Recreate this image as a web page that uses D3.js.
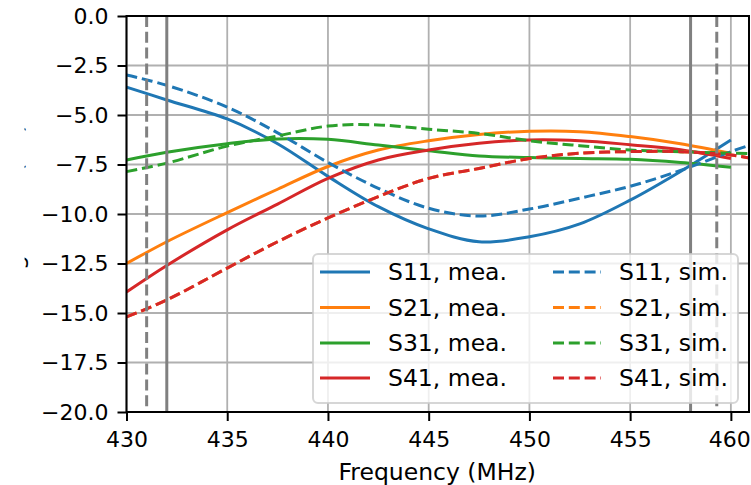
<!DOCTYPE html>
<html>
<head>
<meta charset="utf-8">
<script src="https://cdn.jsdelivr.net/npm/d3@7"></script>
<style>
  html, body { margin: 0; padding: 0; background: #fff; }
  svg { display: block; font-family: "DejaVu Sans", sans-serif; }
</style>
</head>
<body>
<svg id="chart" width="751" height="485"></svg>
<script>
// ---- data ----
const freqMea = [430, 432, 435, 437.5, 440, 442.5, 445, 447.5, 450, 452.5, 455, 457.5, 460];
const freqSim = [430, 432, 435, 437.5, 440, 442.5, 445, 447.5, 450, 452.5, 455, 457.5, 460, 461];

const s11Mea = [-3.59, -4.24, -5.2, -6.45, -8.1, -9.63, -10.75, -11.4, -11.15, -10.5, -9.3, -7.85, -6.26];
const s21Mea = [-12.5, -11.4, -9.93, -8.75, -7.6, -6.77, -6.3, -5.98, -5.82, -5.84, -6.09, -6.45, -6.93];
const s31Mea = [-7.27, -6.88, -6.45, -6.21, -6.23, -6.52, -6.8, -7.07, -7.15, -7.2, -7.24, -7.4, -7.64];
const s41Mea = [-13.94, -12.6, -10.8, -9.5, -8.2, -7.27, -6.77, -6.43, -6.26, -6.3, -6.5, -6.75, -7.2];

const s11Sim = [-2.98, -3.5, -4.6, -5.9, -7.4, -8.7, -9.71, -10.1, -9.75, -9.2, -8.6, -7.8, -6.85, -6.5];
const s21Sim = [-15.2, -14.34, -12.73, -11.4, -10.2, -9.12, -8.2, -7.7, -7.2, -6.93, -6.85, -6.85, -7.02, -7.19];
const s31Sim = [-7.86, -7.43, -6.57, -6.06, -5.56, -5.5, -5.72, -5.93, -6.3, -6.55, -6.77, -6.85, -6.93, -6.95];
const s41Sim = [-15.2, -14.34, -12.73, -11.4, -10.2, -9.12, -8.2, -7.7, -7.2, -6.93, -6.85, -6.85, -7.02, -7.19];

const xTicks = [430, 435, 440, 445, 450, 455, 460];
const yTicks = [0, -2.5, -5, -7.5, -10, -12.5, -15, -17.5, -20];
const solidMarkers = [432, 458];
const dashedMarkers = [431, 459.3];

const seriesNames = ["S11", "S21", "S31", "S41"];
const colors = ["#1f77b4", "#ff7f0e", "#2ca02c", "#d62728"];
const meaSeries = [s11Mea, s21Mea, s31Mea, s41Mea];
const simSeries = [s11Sim, s21Sim, s31Sim, s41Sim];

// ---- layout ----
const svg = d3.select("#chart");
const L = 126.5, R = 749, T = 16, B = 412;
const x = d3.scaleLinear().domain([430, 460.9]).range([L, R]);
const y = d3.scaleLinear().domain([-20, 0]).range([B, T]);
const FS_TICK = 22, FS = 23.5;

const defs = svg.append("defs");
defs.append("clipPath").attr("id", "clip")
  .append("rect").attr("x", L).attr("y", T).attr("width", R - L).attr("height", B - T);
defs.append("clipPath").attr("id", "clipY")
  .append("rect").attr("x", 24.6).attr("y", 0).attr("width", 10).attr("height", 485);

// grid
const grid = svg.append("g");
grid.selectAll("line.gx").data(xTicks).enter().append("line")
  .attr("x1", d => x(d)).attr("x2", d => x(d)).attr("y1", T).attr("y2", B)
  .attr("stroke", "#b0b0b0").attr("stroke-width", 1.8);
grid.selectAll("line.gy").data(yTicks).enter().append("line")
  .attr("x1", L).attr("x2", R).attr("y1", d => y(d)).attr("y2", d => y(d))
  .attr("stroke", "#b0b0b0").attr("stroke-width", 1.8);

// curves
const plot = svg.append("g").attr("clip-path", "url(#clip)");
const lineGen = (fr) => d3.line()
  .x((d, i) => x(fr[i])).y(d => y(d))
  .curve(d3.curveCatmullRom.alpha(0.5));

meaSeries.forEach((s, i) => {
  plot.append("path").datum(s).attr("d", lineGen(freqMea))
    .attr("fill", "none").attr("stroke", colors[i]).attr("stroke-width", 3);
});
simSeries.forEach((s, i) => {
  plot.append("path").datum(s).attr("d", lineGen(freqSim))
    .attr("fill", "none").attr("stroke", colors[i]).attr("stroke-width", 3)
    .attr("stroke-dasharray", "11,4.8");
});

// vertical markers
solidMarkers.forEach(f => {
  plot.append("line").attr("x1", x(f)).attr("x2", x(f)).attr("y1", T).attr("y2", B)
    .attr("stroke", "#808080").attr("stroke-width", 3);
});
dashedMarkers.forEach(f => {
  plot.append("line").attr("x1", x(f)).attr("x2", x(f)).attr("y1", T).attr("y2", B)
    .attr("stroke", "#808080").attr("stroke-width", 3).attr("stroke-dasharray", "11,4.8");
});

// axes
const fmt = d3.format(".1f");
const xAxis = svg.append("g").attr("transform", `translate(0,${B})`)
  .call(d3.axisBottom(x).tickValues(xTicks).tickFormat(d3.format("d")).tickSize(9).tickPadding(10.5));
const yAxis = svg.append("g").attr("transform", `translate(${L},0)`)
  .call(d3.axisLeft(y).tickValues(yTicks).tickFormat(fmt).tickSize(9).tickPadding(9));
[xAxis, yAxis].forEach(a => {
  a.select(".domain").remove();
  a.selectAll(".tick line").attr("stroke", "#000").attr("stroke-width", 2);
  a.selectAll(".tick text").attr("fill", "#000").style("font-size", FS_TICK + "px")
    .style("font-family", "'DejaVu Sans', sans-serif");
});
// keep the last x label inside the canvas edge
xAxis.selectAll(".tick text").filter(d => d === 460).attr("dx", "-1.5");

// spines
svg.append("rect").attr("x", L).attr("y", T).attr("width", R - L).attr("height", B - T)
  .attr("fill", "none").attr("stroke", "#000").attr("stroke-width", 2);

// axis labels
svg.append("text").attr("x", (L + R) / 2 - 0.5).attr("y", 480)
  .attr("text-anchor", "middle").style("font-size", FS + "px").text("Frequency (MHz)");
svg.append("g").attr("clip-path", "url(#clipY)")
  .append("text").attr("transform", `translate(22.5,${(T + B) / 2}) rotate(-90)`)
  .attr("text-anchor", "middle").style("font-size", FS + "px").text("Magnitude (dB)");

// legend
const lg = svg.append("g");
lg.append("rect").attr("x", 313).attr("y", 254).attr("width", 425).attr("height", 149)
  .attr("rx", 5).attr("fill", "#fff").attr("fill-opacity", 0.8)
  .attr("stroke", "#cccccc").attr("stroke-opacity", 0.8).attr("stroke-width", 2);
const rowY = [272, 307.5, 343, 378];
seriesNames.forEach((n, i) => {
  lg.append("line").attr("x1", 320).attr("x2", 370).attr("y1", rowY[i]).attr("y2", rowY[i])
    .attr("stroke", colors[i]).attr("stroke-width", 3);
  lg.append("text").attr("x", 388).attr("y", rowY[i]).attr("dy", "0.36em")
    .style("font-size", FS + "px").text(n + ", mea.");
  lg.append("line").attr("x1", 553).attr("x2", 601).attr("y1", rowY[i]).attr("y2", rowY[i])
    .attr("stroke", colors[i]).attr("stroke-width", 3).attr("stroke-dasharray", "11,4.8");
  lg.append("text").attr("x", 619).attr("y", rowY[i]).attr("dy", "0.36em")
    .style("font-size", FS + "px").text(n + ", sim.");
});
</script>
</body>
</html>
